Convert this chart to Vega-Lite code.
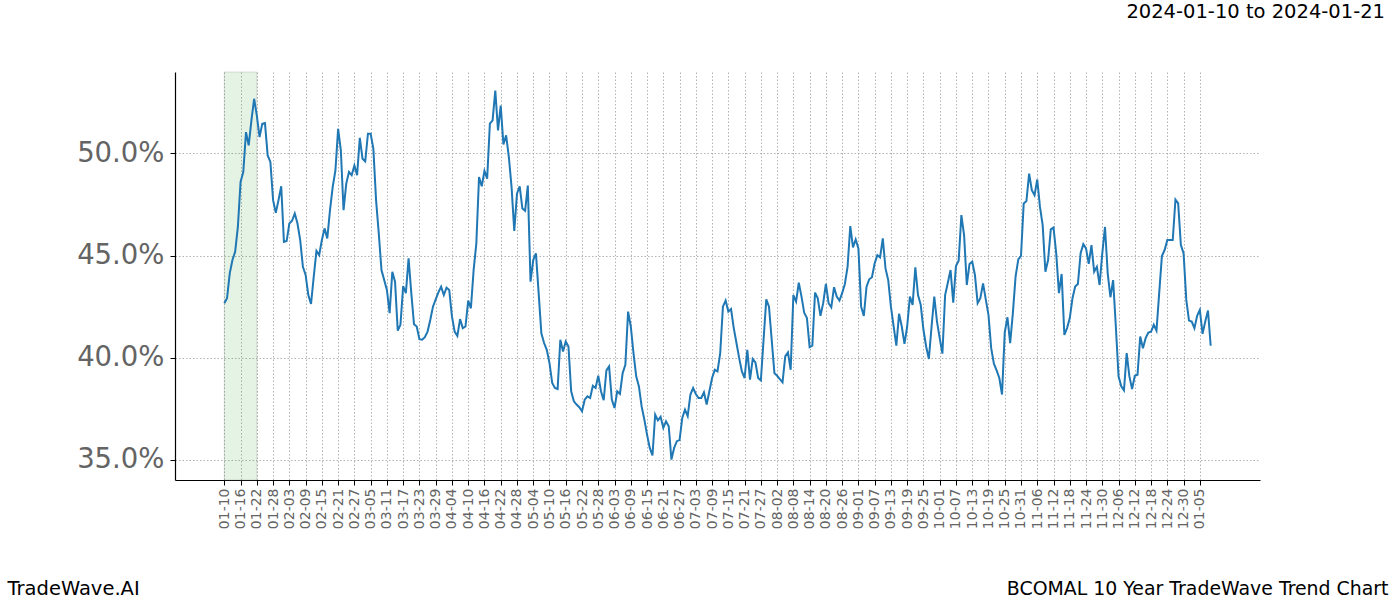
{
"$schema": "https://vega.github.io/schema/vega-lite/v6.json",
"width": 1085,
"height": 408,
"autosize": {"type": "none"},
"padding": {"left": 175, "top": 72, "right": 140, "bottom": 120},
"background": "white",
"title": {"text": "2024-01-10 to 2024-01-21", "anchor": "end", "frame": "group", "fontSize": 19.5, "fontWeight": "normal", "color": "black", "font": "DejaVu Sans", "offset": 0, "baseline": "alphabetic", "dx": 125, "dy": -34},
"config": {"font": "DejaVu Sans", "view": {"stroke": null}},
"datasets": {
"band": [{"date": "2023-01-10", "end": "2023-01-22"}],
"series": [
{"date":"2023-01-10","v":0.4267},{"date":"2023-01-11","v":0.4291},{"date":"2023-01-12","v":0.4413},{"date":"2023-01-13","v":0.4478},{"date":"2023-01-14","v":0.4519},{"date":"2023-01-15","v":0.4640},{"date":"2023-01-16","v":0.4860},{"date":"2023-01-17","v":0.4909},{"date":"2023-01-18","v":0.5104},{"date":"2023-01-19","v":0.5039},{"date":"2023-01-20","v":0.5161},{"date":"2023-01-21","v":0.5267},{"date":"2023-01-22","v":0.5185},{"date":"2023-01-23","v":0.5080},{"date":"2023-01-24","v":0.5145},{"date":"2023-01-25","v":0.5148},{"date":"2023-01-26","v":0.4990},{"date":"2023-01-27","v":0.4958},{"date":"2023-01-28","v":0.4771},{"date":"2023-01-29","v":0.4709},{"date":"2023-01-30","v":0.4771},{"date":"2023-01-31","v":0.4839},
{"date":"2023-02-01","v":0.4567},{"date":"2023-02-02","v":0.4571},{"date":"2023-02-03","v":0.4657},{"date":"2023-02-04","v":0.4670},{"date":"2023-02-05","v":0.4706},{"date":"2023-02-06","v":0.4657},{"date":"2023-02-07","v":0.4576},{"date":"2023-02-08","v":0.4445},{"date":"2023-02-09","v":0.4405},{"date":"2023-02-10","v":0.4307},{"date":"2023-02-11","v":0.4263},{"date":"2023-02-12","v":0.4397},{"date":"2023-02-13","v":0.4523},{"date":"2023-02-14","v":0.4502},{"date":"2023-02-15","v":0.4576},{"date":"2023-02-16","v":0.4633},{"date":"2023-02-17","v":0.4584},{"date":"2023-02-18","v":0.4722},{"date":"2023-02-19","v":0.4836},{"date":"2023-02-20","v":0.4917},{"date":"2023-02-21","v":0.5120},{"date":"2023-02-22","v":0.5015},{"date":"2023-02-23","v":0.4722},{"date":"2023-02-24","v":0.4852},{"date":"2023-02-25","v":0.4909},{"date":"2023-02-26","v":0.4893},{"date":"2023-02-27","v":0.4941},{"date":"2023-02-28","v":0.4893},
{"date":"2023-03-01","v":0.5076},{"date":"2023-03-02","v":0.4974},{"date":"2023-03-03","v":0.4961},{"date":"2023-03-04","v":0.5096},{"date":"2023-03-05","v":0.5096},{"date":"2023-03-06","v":0.5023},{"date":"2023-03-07","v":0.4771},{"date":"2023-03-08","v":0.4608},{"date":"2023-03-09","v":0.4429},{"date":"2023-03-11","v":0.4332},{"date":"2023-03-12","v":0.4218},{"date":"2023-03-13","v":0.4421},{"date":"2023-03-14","v":0.4372},{"date":"2023-03-15","v":0.4133},{"date":"2023-03-16","v":0.4161},{"date":"2023-03-17","v":0.4351},{"date":"2023-03-18","v":0.4316},{"date":"2023-03-19","v":0.4486},{"date":"2023-03-20","v":0.4316},{"date":"2023-03-21","v":0.4164},{"date":"2023-03-22","v":0.4153},{"date":"2023-03-23","v":0.4091},{"date":"2023-03-24","v":0.4088},{"date":"2023-03-25","v":0.4101},{"date":"2023-03-26","v":0.4128},{"date":"2023-03-27","v":0.4185},{"date":"2023-03-28","v":0.4250},{"date":"2023-03-29","v":0.4286},{"date":"2023-03-30","v":0.4320},{"date":"2023-03-31","v":0.4348},
{"date":"2023-04-01","v":0.4307},{"date":"2023-04-02","v":0.4343},{"date":"2023-04-03","v":0.4332},{"date":"2023-04-04","v":0.4202},{"date":"2023-04-05","v":0.4128},{"date":"2023-04-06","v":0.4107},{"date":"2023-04-07","v":0.4189},{"date":"2023-04-08","v":0.4145},{"date":"2023-04-09","v":0.4153},{"date":"2023-04-10","v":0.4280},{"date":"2023-04-11","v":0.4242},{"date":"2023-04-12","v":0.4429},{"date":"2023-04-13","v":0.4559},{"date":"2023-04-14","v":0.4884},{"date":"2023-04-15","v":0.4839},{"date":"2023-04-16","v":0.4914},{"date":"2023-04-17","v":0.4876},{"date":"2023-04-18","v":0.5145},{"date":"2023-04-19","v":0.5161},{"date":"2023-04-20","v":0.5307},{"date":"2023-04-21","v":0.5112},{"date":"2023-04-22","v":0.5234},{"date":"2023-04-23","v":0.5044},{"date":"2023-04-24","v":0.5088},{"date":"2023-04-25","v":0.4982},{"date":"2023-04-26","v":0.4836},{"date":"2023-04-27","v":0.4621},{"date":"2023-04-28","v":0.4803},{"date":"2023-04-29","v":0.4839},{"date":"2023-04-30","v":0.4730},
{"date":"2023-05-01","v":0.4719},{"date":"2023-05-02","v":0.4842},{"date":"2023-05-03","v":0.4372},{"date":"2023-05-04","v":0.4478},{"date":"2023-05-05","v":0.4511},{"date":"2023-05-06","v":0.4316},{"date":"2023-05-07","v":0.4120},{"date":"2023-05-08","v":0.4072},{"date":"2023-05-09","v":0.4039},{"date":"2023-05-10","v":0.3974},{"date":"2023-05-11","v":0.3877},{"date":"2023-05-12","v":0.3852},{"date":"2023-05-13","v":0.3847},{"date":"2023-05-14","v":0.4088},{"date":"2023-05-15","v":0.4031},{"date":"2023-05-16","v":0.4080},{"date":"2023-05-17","v":0.4055},{"date":"2023-05-18","v":0.3836},{"date":"2023-05-19","v":0.3787},{"date":"2023-05-20","v":0.3771},{"date":"2023-05-21","v":0.3758},{"date":"2023-05-22","v":0.3738},{"date":"2023-05-23","v":0.3795},{"date":"2023-05-24","v":0.3811},{"date":"2023-05-25","v":0.3803},{"date":"2023-05-26","v":0.3863},{"date":"2023-05-27","v":0.3852},{"date":"2023-05-28","v":0.3912},{"date":"2023-05-29","v":0.3836},{"date":"2023-05-30","v":0.3792},{"date":"2023-05-31","v":0.3938},
{"date":"2023-06-01","v":0.3958},{"date":"2023-06-02","v":0.3795},{"date":"2023-06-03","v":0.3754},{"date":"2023-06-04","v":0.3836},{"date":"2023-06-05","v":0.3823},{"date":"2023-06-06","v":0.3925},{"date":"2023-06-07","v":0.3966},{"date":"2023-06-08","v":0.4226},{"date":"2023-06-09","v":0.4153},{"date":"2023-06-10","v":0.4023},{"date":"2023-06-11","v":0.3909},{"date":"2023-06-12","v":0.3860},{"date":"2023-06-13","v":0.3762},{"date":"2023-06-14","v":0.3698},{"date":"2023-06-15","v":0.3624},{"date":"2023-06-16","v":0.3559},{"date":"2023-06-17","v":0.3522},{"date":"2023-06-18","v":0.3722},{"date":"2023-06-19","v":0.3694},{"date":"2023-06-20","v":0.3711},{"date":"2023-06-21","v":0.3657},{"date":"2023-06-22","v":0.3689},{"date":"2023-06-23","v":0.3665},{"date":"2023-06-24","v":0.3502},{"date":"2023-06-25","v":0.3559},{"date":"2023-06-26","v":0.3592},{"date":"2023-06-27","v":0.3597},{"date":"2023-06-28","v":0.3706},{"date":"2023-06-29","v":0.3746},{"date":"2023-06-30","v":0.3714},
{"date":"2023-07-01","v":0.3820},{"date":"2023-07-02","v":0.3852},{"date":"2023-07-03","v":0.3823},{"date":"2023-07-04","v":0.3803},{"date":"2023-07-05","v":0.3803},{"date":"2023-07-06","v":0.3831},{"date":"2023-07-07","v":0.3771},{"date":"2023-07-08","v":0.3836},{"date":"2023-07-09","v":0.3901},{"date":"2023-07-10","v":0.3941},{"date":"2023-07-11","v":0.3933},{"date":"2023-07-12","v":0.4023},{"date":"2023-07-13","v":0.4250},{"date":"2023-07-14","v":0.4280},{"date":"2023-07-15","v":0.4226},{"date":"2023-07-16","v":0.4238},{"date":"2023-07-17","v":0.4145},{"date":"2023-07-18","v":0.4072},{"date":"2023-07-19","v":0.3998},{"date":"2023-07-20","v":0.3933},{"date":"2023-07-21","v":0.3901},{"date":"2023-07-22","v":0.4039},{"date":"2023-07-23","v":0.3893},{"date":"2023-07-24","v":0.3994},{"date":"2023-07-25","v":0.3977},{"date":"2023-07-26","v":0.3901},{"date":"2023-07-27","v":0.3889},{"date":"2023-07-28","v":0.4088},{"date":"2023-07-29","v":0.4286},{"date":"2023-07-30","v":0.4250},{"date":"2023-07-31","v":0.4088},
{"date":"2023-08-01","v":0.3925},{"date":"2023-08-02","v":0.3912},{"date":"2023-08-03","v":0.3896},{"date":"2023-08-04","v":0.3880},{"date":"2023-08-05","v":0.4007},{"date":"2023-08-06","v":0.4026},{"date":"2023-08-07","v":0.3941},{"date":"2023-08-08","v":0.4307},{"date":"2023-08-09","v":0.4275},{"date":"2023-08-10","v":0.4367},{"date":"2023-08-11","v":0.4299},{"date":"2023-08-12","v":0.4220},{"date":"2023-08-13","v":0.4194},{"date":"2023-08-14","v":0.4052},{"date":"2023-08-15","v":0.4059},{"date":"2023-08-16","v":0.4319},{"date":"2023-08-17","v":0.4291},{"date":"2023-08-18","v":0.4205},{"date":"2023-08-19","v":0.4267},{"date":"2023-08-20","v":0.4361},{"date":"2023-08-21","v":0.4267},{"date":"2023-08-22","v":0.4247},{"date":"2023-08-23","v":0.4345},{"date":"2023-08-24","v":0.4299},{"date":"2023-08-25","v":0.4280},{"date":"2023-08-26","v":0.4316},{"date":"2023-08-27","v":0.4361},{"date":"2023-08-28","v":0.4445},{"date":"2023-08-29","v":0.4644},{"date":"2023-08-30","v":0.4540},{"date":"2023-08-31","v":0.4579},
{"date":"2023-09-01","v":0.4535},{"date":"2023-09-02","v":0.4250},{"date":"2023-09-03","v":0.4205},{"date":"2023-09-04","v":0.4348},{"date":"2023-09-05","v":0.4384},{"date":"2023-09-06","v":0.4394},{"date":"2023-09-07","v":0.4462},{"date":"2023-09-08","v":0.4502},{"date":"2023-09-09","v":0.4491},{"date":"2023-09-10","v":0.4584},{"date":"2023-09-11","v":0.4437},{"date":"2023-09-12","v":0.4380},{"date":"2023-09-13","v":0.4250},{"date":"2023-09-14","v":0.4153},{"date":"2023-09-15","v":0.4059},{"date":"2023-09-16","v":0.4215},{"date":"2023-09-17","v":0.4153},{"date":"2023-09-18","v":0.4068},{"date":"2023-09-19","v":0.4153},{"date":"2023-09-20","v":0.4299},{"date":"2023-09-21","v":0.4259},{"date":"2023-09-22","v":0.4442},{"date":"2023-09-23","v":0.4307},{"date":"2023-09-24","v":0.4259},{"date":"2023-09-25","v":0.4137},{"date":"2023-09-26","v":0.4055},{"date":"2023-09-27","v":0.3994},{"date":"2023-09-28","v":0.4153},{"date":"2023-09-29","v":0.4299},{"date":"2023-09-30","v":0.4177},
{"date":"2023-10-01","v":0.4096},{"date":"2023-10-02","v":0.4020},{"date":"2023-10-03","v":0.4307},{"date":"2023-10-04","v":0.4367},{"date":"2023-10-05","v":0.4429},{"date":"2023-10-06","v":0.4270},{"date":"2023-10-07","v":0.4449},{"date":"2023-10-08","v":0.4475},{"date":"2023-10-09","v":0.4698},{"date":"2023-10-10","v":0.4600},{"date":"2023-10-11","v":0.4356},{"date":"2023-10-12","v":0.4459},{"date":"2023-10-13","v":0.4470},{"date":"2023-10-14","v":0.4405},{"date":"2023-10-15","v":0.4267},{"date":"2023-10-16","v":0.4291},{"date":"2023-10-17","v":0.4364},{"date":"2023-10-18","v":0.4286},{"date":"2023-10-19","v":0.4210},{"date":"2023-10-20","v":0.4047},{"date":"2023-10-21","v":0.3971},{"date":"2023-10-22","v":0.3938},{"date":"2023-10-23","v":0.3901},{"date":"2023-10-24","v":0.3820},{"date":"2023-10-25","v":0.4123},{"date":"2023-10-26","v":0.4198},{"date":"2023-10-27","v":0.4072},{"date":"2023-10-28","v":0.4218},{"date":"2023-10-29","v":0.4397},{"date":"2023-10-30","v":0.4481},{"date":"2023-10-31","v":0.4498},
{"date":"2023-11-01","v":0.4755},{"date":"2023-11-02","v":0.4767},{"date":"2023-11-03","v":0.4901},{"date":"2023-11-04","v":0.4820},{"date":"2023-11-05","v":0.4795},{"date":"2023-11-06","v":0.4872},{"date":"2023-11-07","v":0.4738},{"date":"2023-11-08","v":0.4649},{"date":"2023-11-09","v":0.4421},{"date":"2023-11-10","v":0.4478},{"date":"2023-11-11","v":0.4628},{"date":"2023-11-12","v":0.4637},{"date":"2023-11-13","v":0.4511},{"date":"2023-11-14","v":0.4316},{"date":"2023-11-15","v":0.4410},{"date":"2023-11-16","v":0.4112},{"date":"2023-11-17","v":0.4145},{"date":"2023-11-18","v":0.4194},{"date":"2023-11-19","v":0.4291},{"date":"2023-11-20","v":0.4348},{"date":"2023-11-21","v":0.4361},{"date":"2023-11-22","v":0.4511},{"date":"2023-11-23","v":0.4556},{"date":"2023-11-24","v":0.4535},{"date":"2023-11-25","v":0.4459},{"date":"2023-11-26","v":0.4551},{"date":"2023-11-27","v":0.4421},{"date":"2023-11-28","v":0.4445},{"date":"2023-11-29","v":0.4356},{"date":"2023-11-30","v":0.4511},
{"date":"2023-12-01","v":0.4640},{"date":"2023-12-02","v":0.4413},{"date":"2023-12-03","v":0.4296},{"date":"2023-12-04","v":0.4380},{"date":"2023-12-05","v":0.4153},{"date":"2023-12-06","v":0.3909},{"date":"2023-12-07","v":0.3860},{"date":"2023-12-08","v":0.3841},{"date":"2023-12-09","v":0.4023},{"date":"2023-12-10","v":0.3909},{"date":"2023-12-11","v":0.3847},{"date":"2023-12-12","v":0.3912},{"date":"2023-12-13","v":0.3917},{"date":"2023-12-14","v":0.4104},{"date":"2023-12-15","v":0.4047},{"date":"2023-12-16","v":0.4096},{"date":"2023-12-17","v":0.4123},{"date":"2023-12-18","v":0.4128},{"date":"2023-12-19","v":0.4161},{"date":"2023-12-20","v":0.4133},{"date":"2023-12-21","v":0.4316},{"date":"2023-12-22","v":0.4498},{"date":"2023-12-23","v":0.4527},{"date":"2023-12-24","v":0.4576},{"date":"2023-12-25","v":0.4576},{"date":"2023-12-26","v":0.4576},{"date":"2023-12-27","v":0.4774},{"date":"2023-12-28","v":0.4755},{"date":"2023-12-29","v":0.4551},{"date":"2023-12-30","v":0.4511},{"date":"2023-12-31","v":0.4283},
{"date":"2024-01-01","v":0.4182},{"date":"2024-01-02","v":0.4177},{"date":"2024-01-03","v":0.4145},{"date":"2024-01-04","v":0.4205},{"date":"2024-01-05","v":0.4234},{"date":"2024-01-06","v":0.4117},{"date":"2024-01-07","v":0.4177},{"date":"2024-01-08","v":0.4231},{"date":"2024-01-09","v":0.4059}
]
},
"encoding": {
"x": {"field": "date", "type": "temporal",
"scale": {"type": "utc", "domain": [1671736320000, 1706330880000]},
"axis": {"values": [1673308800000,1673827200000,1674345600000,1674864000000,1675382400000,1675900800000,1676419200000,1676937600000,1677456000000,1677974400000,1678492800000,1679011200000,1679529600000,1680048000000,1680566400000,1681084800000,1681603200000,1682121600000,1682640000000,1683158400000,1683676800000,1684195200000,1684713600000,1685232000000,1685750400000,1686268800000,1686787200000,1687305600000,1687824000000,1688342400000,1688860800000,1689379200000,1689897600000,1690416000000,1690934400000,1691452800000,1691971200000,1692489600000,1693008000000,1693526400000,1694044800000,1694563200000,1695081600000,1695600000000,1696118400000,1696636800000,1697155200000,1697673600000,1698192000000,1698710400000,1699228800000,1699747200000,1700265600000,1700784000000,1701302400000,1701820800000,1702339200000,1702857600000,1703376000000,1703894400000,1704412800000],
"labelExpr": "utcFormat(datum.value, '%m-%d')", "labelAngle": -90, "labelFontSize": 14, "labelColor": "#646464", "labelPadding": 3, "labelOverlap": false, "labelFlush": false, "labelBound": false,
"tickColor": "black", "tickSize": 5, "tickWidth": 1, "domainColor": "black", "domainWidth": 1.2,
"grid": true, "gridColor": "#a0a0a0", "gridDash": [1.5, 2], "gridWidth": 0.8,
"title": "BCOMAL 10 Year TradeWave Trend Chart", "titleFontSize": 18.9, "titleFontWeight": "normal", "titleColor": "black", "titleAngle": 0, "titleAlign": "right", "titleBaseline": "alphabetic", "titleX": 1213, "titleY": 114}
}
},
"layer": [
{
"data": {"name": "band"},
"mark": {"type": "rect", "fill": "#2ca02c", "fillOpacity": 0.12, "stroke": "#7f7f7f", "strokeOpacity": 0.25, "strokeWidth": 1},
"encoding": {
"x2": {"field": "end"}
}
},
{
"data": {"name": "series"},
"mark": {"type": "line", "color": "#1f77b4", "strokeWidth": 2, "clip": true},
"encoding": {
"y": {"field": "v", "type": "quantitative",
"scale": {"domain": [0.3402, 0.5398], "zero": false, "nice": false},
"axis": {"values": [0.35, 0.40, 0.45, 0.50], "format": ".1%", "labelFontSize": 27.5, "labelColor": "#646464", "labelPadding": 6,
"tickColor": "black", "tickSize": 5, "tickWidth": 1, "domainColor": "black", "domainWidth": 1.2,
"grid": true, "gridColor": "#a0a0a0", "gridDash": [1.5, 2], "gridWidth": 0.8,
"title": "TradeWave.AI", "titleFontSize": 19.5, "titleFontWeight": "normal", "titleColor": "black", "titleAngle": 0, "titleAlign": "left", "titleBaseline": "alphabetic", "titleX": -168, "titleY": 522}
}
}
}
]
}
